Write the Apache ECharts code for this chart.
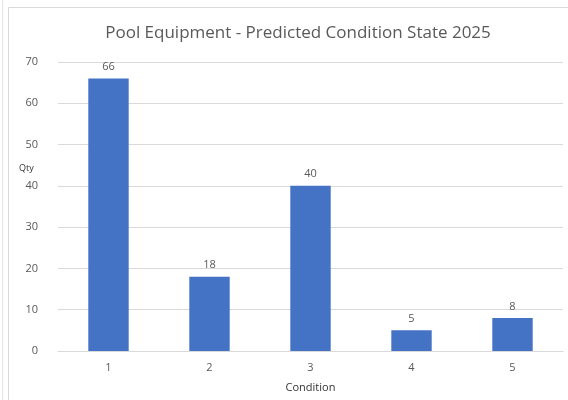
<!DOCTYPE html>
<html>
<head>
<meta charset="utf-8">
<script src="https://cdn.jsdelivr.net/npm/echarts@6/dist/echarts.min.js"></script>
<style>
  html, body { margin: 0; padding: 0; background: #fff; }
  #chart { width: 568px; height: 400px; }
</style>
</head>
<body>
<div id="chart"></div>
<script>
const conditions = ['1', '2', '3', '4', '5']
const qty = [66, 18, 40, 5, 8]

const chart = echarts.init(document.getElementById('chart'))
chart.setOption({
  animation: false,
  textStyle: { fontFamily: 'Open Sans' },
  graphic: [
    {
      type: 'rect',
      shape: { x: 8.5, y: 7.5, width: 570, height: 400 },
      style: { fill: 'none', stroke: '#d9d9d9', lineWidth: 1 }
    },
    {
      type: 'line',
      shape: { x1: 2.5, y1: 0, x2: 2.5, y2: 400 },
      style: { stroke: '#e6e6e6', lineWidth: 1 }
    },
    {
      // y axis title sits high, like the original
      type: 'text',
      left: 19,
      top: 164,
      style: { text: 'Qty', fontSize: 9, fill: '#333', fontFamily: 'Open Sans' }
    }
  ],
  title: {
    text: 'Pool Equipment - Predicted Condition State 2025',
    left: 293,
    textAlign: 'center',
    top: 20,
    textStyle: { fontSize: 17, fontWeight: 'normal', color: '#595959' }
  },
  grid: { left: 58, right: 5, top: 62, bottom: 49 },
  xAxis: {
    type: 'category',
    data: conditions,
    name: 'Condition',
    nameLocation: 'middle',
    nameGap: 31,
    nameTextStyle: { fontSize: 11, color: '#333' },
    axisLine: { lineStyle: { color: '#d9d9d9' } },
    axisTick: { show: false },
    axisLabel: { fontSize: 11, color: '#595959', margin: 11 }
  },
  yAxis: {
    type: 'value',
    min: 0,
    max: 70,
    interval: 10,
    axisLabel: { fontSize: 11, color: '#595959', margin: 20 },
    splitLine: { lineStyle: { color: '#d9d9d9' } }
  },
  series: [{
    type: 'bar',
    data: qty,
    barWidth: '40%',
    itemStyle: { color: '#4472c4' },
    label: { show: true, position: 'top', distance: 6, fontSize: 11, color: '#595959' }
  }]
})
</script>
</body>
</html>
